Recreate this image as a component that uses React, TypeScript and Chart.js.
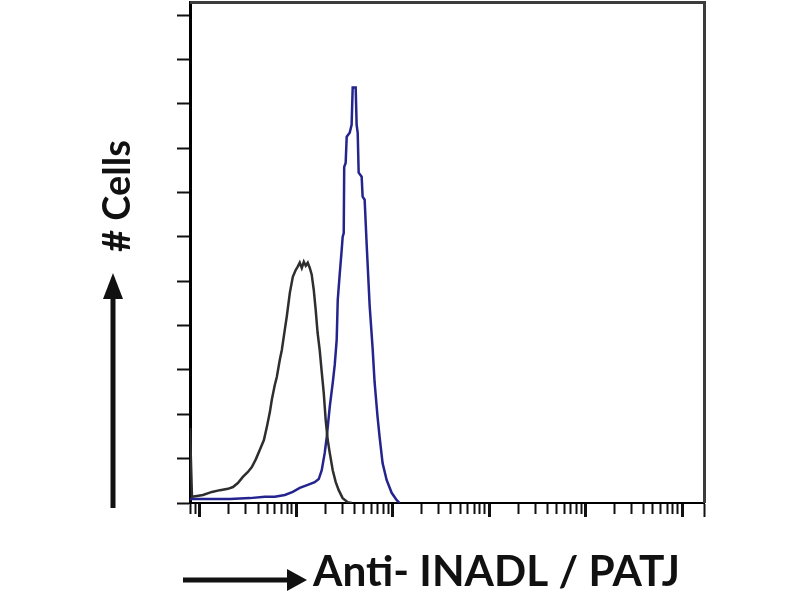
import React, { useEffect, useRef } from "react";
import { Chart, registerables } from "chart.js";

Chart.register(...registerables);

// x axis: log scale, bounds expressed in decades (log10 of intensity)
const X_MIN_DECADE = -0.1035;
const X_MAX_DECADE = 5.228;
const Y_MAX = 11.3;
const Y_STEP = 1;

// Isotype control (black) histogram: position in decades, count
const controlDecades = [
  -0.1035, -0.083, -0.031, 0.031, 0.124, 0.207, 0.29, 0.342, 0.393, 0.445,
  0.497, 0.538, 0.58, 0.621, 0.663, 0.694, 0.725, 0.745, 0.776, 0.797,
  0.828, 0.849, 0.88, 0.9, 0.932, 0.963, 0.994, 1.014, 1.035, 1.056,
  1.077, 1.097, 1.118, 1.139, 1.159, 1.18, 1.2, 1.22, 1.242, 1.263,
  1.284, 1.304, 1.325, 1.346, 1.377, 1.408, 1.439, 1.48, 1.532, 1.574,
];
const controlCounts = [
  1.69, 0.14, 0.16, 0.18, 0.25, 0.29, 0.32, 0.36, 0.45, 0.59,
  0.7, 0.81, 0.99, 1.2, 1.42, 1.72, 2.05, 2.33, 2.66, 2.84,
  3.23, 3.45, 3.91, 4.2, 4.74, 5.1, 5.26, 5.33, 5.42, 5.3,
  5.44, 5.35, 5.42, 5.3, 5.15, 4.81, 4.36, 3.84, 3.45, 2.95,
  2.48, 1.87, 1.42, 1.13, 0.74, 0.47, 0.29, 0.11, 0.02, 0,
];

// Anti-INADL / PATJ stained (blue) histogram
const stainedDecades = [
  -0.1035, 0.1035, 0.311, 0.518, 0.673, 0.776, 0.88, 0.963, 1.035, 1.118,
  1.19, 1.232, 1.263, 1.294, 1.315, 1.346, 1.377, 1.398, 1.418, 1.429,
  1.449, 1.47, 1.48, 1.491, 1.496, 1.511, 1.522, 1.553, 1.573, 1.584,
  1.615, 1.625, 1.636, 1.646, 1.677, 1.687, 1.708, 1.729, 1.76, 1.791,
  1.811, 1.842, 1.863, 1.894, 1.936, 1.988, 2.039, 2.07,
];
const stainedCounts = [
  0.09, 0.09, 0.09, 0.11, 0.14, 0.14, 0.18, 0.25, 0.34, 0.41,
  0.47, 0.54, 0.74, 1.13, 1.49, 2.17, 2.71, 3.12, 3.68, 4.58,
  5.15, 5.71, 6.0, 6.09, 7.58, 7.67, 8.26, 8.35, 8.53, 9.37,
  9.37, 8.53, 8.35, 7.45, 7.36, 6.91, 6.84, 5.83, 4.45, 3.48,
  2.73, 1.94, 1.49, 0.9, 0.52, 0.23, 0.07, 0,
];

const xTitle = "Anti- INADL / PATJ";
const yTitle = "# Cells";

const TITLE_FONT = "Lato";

const decorPlugin = {
  id: "decor",
  afterDraw(chart: any) {
    const { ctx, chartArea: a } = chart;
    ctx.save();
    // top and right frame
    ctx.strokeStyle = "#3c3c3c";
    ctx.lineWidth = 3;
    ctx.beginPath();
    ctx.moveTo(a.left, a.top + 0.5);
    ctx.lineTo(a.right + 0.5, a.top + 0.5);
    ctx.lineTo(a.right + 0.5, a.bottom);
    ctx.stroke();

    ctx.fillStyle = "#111";
    ctx.strokeStyle = "#111";

    // x title with arrow
    const xTarget = 367;
    ctx.font = `bold 32px ${TITLE_FONT}`;
    let w = ctx.measureText(xTitle).width;
    const xSize = (32 * xTarget) / w;
    ctx.font = `bold ${xSize}px ${TITLE_FONT}`;
    ctx.textBaseline = "alphabetic";
    ctx.textAlign = "left";
    const xTextLeft = a.left + 123;
    const xBase = a.bottom + 83;
    ctx.fillText(xTitle, xTextLeft, xBase);
    // arrow
    const ay = a.bottom + 77;
    ctx.lineWidth = 5;
    ctx.beginPath();
    ctx.moveTo(a.left - 7, ay);
    ctx.lineTo(a.left + 100, ay);
    ctx.stroke();
    ctx.beginPath();
    ctx.moveTo(a.left + 117, ay);
    ctx.lineTo(a.left + 97, ay - 11);
    ctx.lineTo(a.left + 97, ay + 11);
    ctx.closePath();
    ctx.fill();

    // y title with arrow
    const yTarget = 112;
    ctx.font = `bold 32px ${TITLE_FONT}`;
    w = ctx.measureText(yTitle).width;
    const ySize = (32 * yTarget) / w;
    ctx.save();
    ctx.translate(a.left - 60, a.top + 250);
    ctx.rotate(-Math.PI / 2);
    ctx.font = `bold ${ySize}px ${TITLE_FONT}`;
    ctx.textAlign = "left";
    ctx.fillText(yTitle, 0, 0);
    ctx.restore();
    const ax = a.left - 77;
    ctx.lineWidth = 5;
    ctx.beginPath();
    ctx.moveTo(ax, a.bottom + 5);
    ctx.lineTo(ax, a.top + 295);
    ctx.stroke();
    ctx.beginPath();
    ctx.moveTo(ax, a.top + 271);
    ctx.lineTo(ax - 10, a.top + 297);
    ctx.lineTo(ax + 10, a.top + 297);
    ctx.closePath();
    ctx.fill();
    ctx.restore();
  },
};

export default function App() {
  const ref = useRef<HTMLCanvasElement>(null);
  useEffect(() => {
    if (!ref.current) return;
    const xMax = Math.pow(10, X_MAX_DECADE);
    const chart = new Chart(ref.current, {
      type: "line",
      data: {
        datasets: [
          {
            label: "Isotype control",
            data: controlDecades.map((d, i) => ({ x: Math.pow(10, d), y: controlCounts[i] })),
            borderColor: "#2e2e2e",
            borderWidth: 2.5,
            pointRadius: 0,
            tension: 0,
            fill: false,
          },
          {
            label: "Anti-INADL / PATJ",
            data: stainedDecades.map((d, i) => ({ x: Math.pow(10, d), y: stainedCounts[i] })),
            borderColor: "#24248e",
            borderWidth: 2.5,
            pointRadius: 0,
            tension: 0,
            fill: false,
          },
        ],
      },
      options: {
        animation: false,
        responsive: false,
        layout: { padding: { left: 177, top: 2, right: 96, bottom: 83 } },
        plugins: { legend: { display: false }, tooltip: { enabled: false } },
        scales: {
          x: {
            type: "logarithmic",
            min: Math.pow(10, X_MIN_DECADE),
            max: xMax,
            afterBuildTicks: (scale: any) => {
              scale.ticks = scale.ticks.filter((t: any) => {
                const m = t.value / Math.pow(10, Math.floor(Math.log10(t.value) + 1e-9));
                return Math.abs(m - 1.5) > 1e-6;
              });
            },
            ticks: { display: false },
            grid: {
              drawOnChartArea: false,
              drawTicks: true,
              tickLength: 14,
              tickColor: "#111",
              tickWidth: (c: any) => (c.tick && c.tick.major ? 3 : 2),
              tickBorderDash: (c: any) =>
                c.tick && (c.tick.major || c.tick.value >= xMax * 0.999) ? [] : [10, 40],
            },
            border: { display: true, color: "#000", width: 2 },
          },
          y: {
            type: "linear",
            min: 0,
            max: Y_MAX,
            ticks: { display: false, stepSize: Y_STEP, includeBounds: false },
            grid: {
              drawOnChartArea: false,
              drawTicks: true,
              tickLength: 13,
              tickColor: "#111",
              tickWidth: 2,
            },
            border: { display: true, color: "#000", width: 3 },
          },
        },
      },
      plugins: [decorPlugin],
    });
    return () => chart.destroy();
  }, []);
  return (
    <div style={{ position: "fixed", left: 0, top: 0, width: 800, height: 600, background: "#fff" }}>
      <canvas ref={ref} width={800} height={600} style={{ display: "block" }} />
    </div>
  );
}
